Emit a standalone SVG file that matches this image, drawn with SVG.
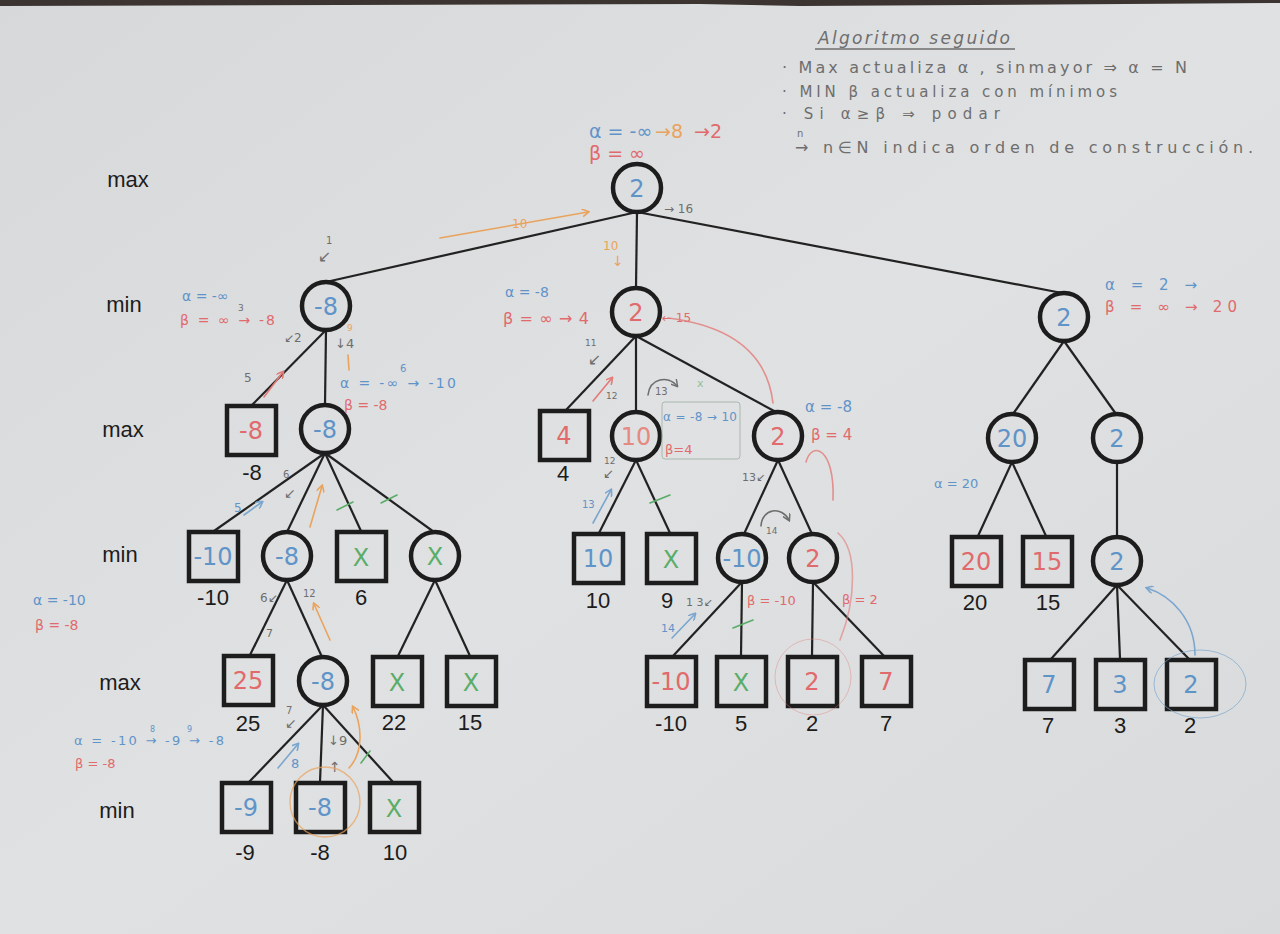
<svg xmlns="http://www.w3.org/2000/svg" width="1280" height="934" viewBox="0 0 1280 934">
<defs>
<linearGradient id="paper" x1="0" y1="0" x2="1" y2="1">
<stop offset="0" stop-color="#d7d8da"/>
<stop offset="0.5" stop-color="#e0e1e2"/>
<stop offset="1" stop-color="#d9dadb"/>
</linearGradient>
<marker id="ao" markerWidth="8" markerHeight="8" refX="6" refY="4" orient="auto" markerUnits="userSpaceOnUse"><path d="M0,0 L7,4 L0,8" fill="none" stroke="#e9a35c" stroke-width="1.6"/></marker>
<marker id="ar" markerWidth="8" markerHeight="8" refX="6" refY="4" orient="auto" markerUnits="userSpaceOnUse"><path d="M0,0 L7,4 L0,8" fill="none" stroke="#e27a78" stroke-width="1.6"/></marker>
<marker id="ab" markerWidth="8" markerHeight="8" refX="6" refY="4" orient="auto" markerUnits="userSpaceOnUse"><path d="M0,0 L7,4 L0,8" fill="none" stroke="#7aa6cf" stroke-width="1.6"/></marker>
<marker id="ap" markerWidth="8" markerHeight="8" refX="6" refY="4" orient="auto" markerUnits="userSpaceOnUse"><path d="M0,0 L7,4 L0,8" fill="none" stroke="#6e6e6e" stroke-width="1.4"/></marker>
</defs>
<style>
.nd{fill:none;stroke:#1d1d1d;stroke-width:4.5}
.edge{stroke:#222;stroke-width:2.2;fill:none}
.lvl{font-family:"Liberation Sans",Arial,sans-serif;font-size:22px;fill:#1c1c1c;text-anchor:middle}
.val{font-family:"Liberation Sans",Arial,sans-serif;font-size:22px;fill:#1c1c1c;text-anchor:middle}
.nv{font-family:"DejaVu Sans",sans-serif;font-size:24px;text-anchor:middle}
.ann{font-family:"DejaVu Sans",sans-serif;font-size:14px}
.b{fill:#5f94c9}
.r{fill:#e06a6c}
.o{fill:#e9a35c}
.g{fill:#59ad68}
.p{fill:#6e6e6e}
.ls{fill:none;stroke-width:1.6;stroke-linecap:round}
</style>
<rect width="1280" height="934" fill="url(#paper)"/>
<polygon points="0,0 1280,0 1280,3 800,6 700,4 0,6" fill="#3b3431"/>

<!-- level labels -->
<g id="levels">
<text class="lvl" x="128" y="187">max</text>
<text class="lvl" x="124" y="312">min</text>
<text class="lvl" x="123" y="437">max</text>
<text class="lvl" x="120" y="562">min</text>
<text class="lvl" x="120" y="690">max</text>
<text class="lvl" x="117" y="818">min</text>
</g>

<!-- connectors -->
<g id="connectors" class="edge">
<line x1="637" y1="212" x2="326" y2="282"/>
<line x1="637" y1="212" x2="636" y2="288"/>
<line x1="637" y1="212" x2="1062" y2="293"/>
<line x1="326" y1="330" x2="252" y2="405"/>
<line x1="326" y1="330" x2="325" y2="405"/>
<line x1="636" y1="336" x2="566" y2="410"/>
<line x1="636" y1="336" x2="636" y2="412"/>
<line x1="636" y1="336" x2="776" y2="412"/>
<line x1="1064" y1="341" x2="1013" y2="414"/>
<line x1="1064" y1="341" x2="1116" y2="414"/>
<line x1="325" y1="453" x2="214" y2="531"/>
<line x1="325" y1="453" x2="287" y2="532"/>
<line x1="325" y1="453" x2="361" y2="531"/>
<line x1="325" y1="453" x2="434" y2="532"/>
<line x1="636" y1="460" x2="599" y2="533"/>
<line x1="636" y1="460" x2="670" y2="533"/>
<line x1="778" y1="460" x2="744" y2="534"/>
<line x1="778" y1="460" x2="812" y2="534"/>
<line x1="1012" y1="462" x2="978" y2="536"/>
<line x1="1012" y1="462" x2="1046" y2="536"/>
<line x1="1117" y1="462" x2="1117" y2="537"/>
<line x1="287" y1="580" x2="250" y2="655"/>
<line x1="287" y1="580" x2="322" y2="657"/>
<line x1="435" y1="580" x2="398" y2="656"/>
<line x1="435" y1="580" x2="470" y2="656"/>
<line x1="742" y1="582" x2="673" y2="656"/>
<line x1="742" y1="582" x2="741" y2="656"/>
<line x1="813" y1="582" x2="812" y2="656"/>
<line x1="813" y1="582" x2="884" y2="656"/>
<line x1="1117" y1="585" x2="1051" y2="659"/>
<line x1="1117" y1="585" x2="1120" y2="659"/>
<line x1="1117" y1="585" x2="1189" y2="659"/>
<line x1="323" y1="705" x2="249" y2="782"/>
<line x1="323" y1="705" x2="320" y2="782"/>
<line x1="323" y1="705" x2="393" y2="782"/>
</g>

<!-- nodes -->
<g id="n-root"><circle class="nd" cx="637" cy="188" r="24"/><text class="nv b" x="637" y="197">2</text></g>
<g id="n-A"><circle class="nd" cx="326" cy="306" r="24"/><text class="nv b" x="326" y="315">-8</text></g>
<g id="n-B"><circle class="nd" cx="636" cy="312" r="24"/><text class="nv r" x="636" y="321">2</text></g>
<g id="n-C"><circle class="nd" cx="1064" cy="317" r="24"/><text class="nv b" x="1064" y="326">2</text></g>

<g id="n-A1"><rect class="nd" x="227" y="406" width="49" height="49"/><text class="nv r" x="251" y="439">-8</text><text class="val" x="252" y="480">-8</text></g>
<g id="n-A2"><circle class="nd" cx="325" cy="429" r="24"/><text class="nv b" x="325" y="438">-8</text></g>
<g id="n-B1"><rect class="nd" x="540" y="411" width="49" height="49"/><text class="nv r" x="564" y="444">4</text><text class="val" x="563" y="481">4</text></g>
<g id="n-B2"><circle class="nd" cx="636" cy="436" r="24"/><text class="nv r" x="636" y="445" style="fill:#e58a80">10</text></g>
<g id="n-B3"><circle class="nd" cx="778" cy="436" r="24"/><text class="nv r" x="778" y="445">2</text></g>
<g id="n-C1"><circle class="nd" cx="1012" cy="438" r="24"/><text class="nv b" x="1012" y="447">20</text></g>
<g id="n-C2"><circle class="nd" cx="1117" cy="438" r="24"/><text class="nv b" x="1117" y="447">2</text></g>

<g id="n-A2a"><rect class="nd" x="189" y="532" width="49" height="49"/><text class="nv b" x="213" y="565">-10</text><text class="val" x="213" y="605">-10</text></g>
<g id="n-A2b"><circle class="nd" cx="287" cy="556" r="24"/><text class="nv b" x="287" y="565">-8</text></g>
<g id="n-A2c"><rect class="nd" x="337" y="532" width="49" height="49"/><text class="nv g" x="361" y="566">X</text><text class="val" x="361" y="605">6</text></g>
<g id="n-A2d"><circle class="nd" cx="435" cy="556" r="24"/><text class="nv g" x="435" y="565">X</text></g>
<g id="n-B2a"><rect class="nd" x="574" y="534" width="49" height="49"/><text class="nv b" x="598" y="567">10</text><text class="val" x="598" y="608">10</text></g>
<g id="n-B2b"><rect class="nd" x="647" y="534" width="49" height="49"/><text class="nv g" x="671" y="568">X</text><text class="val" x="667" y="608">9</text></g>
<g id="n-B3a"><circle class="nd" cx="742" cy="558" r="24"/><text class="nv b" x="742" y="567">-10</text></g>
<g id="n-B3b"><circle class="nd" cx="813" cy="558" r="24"/><text class="nv r" x="813" y="567">2</text></g>
<g id="n-C1a"><rect class="nd" x="952" y="537" width="49" height="49"/><text class="nv r" x="976" y="570">20</text><text class="val" x="975" y="610">20</text></g>
<g id="n-C1b"><rect class="nd" x="1023" y="537" width="49" height="49"/><text class="nv r" x="1047" y="570">15</text><text class="val" x="1048" y="610">15</text></g>
<g id="n-C2a"><circle class="nd" cx="1117" cy="561" r="24"/><text class="nv b" x="1117" y="570">2</text></g>

<g id="n-A2b1"><rect class="nd" x="224" y="656" width="49" height="49"/><text class="nv r" x="248" y="689">25</text><text class="val" x="248" y="731">25</text></g>
<g id="n-A2b2"><circle class="nd" cx="323" cy="681" r="24"/><text class="nv b" x="323" y="690">-8</text></g>
<g id="n-A2d1"><rect class="nd" x="373" y="657" width="49" height="49"/><text class="nv g" x="397" y="691">X</text><text class="val" x="394" y="730">22</text></g>
<g id="n-A2d2"><rect class="nd" x="447" y="657" width="49" height="49"/><text class="nv g" x="471" y="691">X</text><text class="val" x="470" y="730">15</text></g>
<g id="n-B3a1"><rect class="nd" x="647" y="657" width="49" height="49"/><text class="nv r" x="671" y="690">-10</text><text class="val" x="671" y="731">-10</text></g>
<g id="n-B3a2"><rect class="nd" x="717" y="657" width="49" height="49"/><text class="nv g" x="741" y="691">X</text><text class="val" x="741" y="731">5</text></g>
<g id="n-B3b1"><rect class="nd" x="788" y="657" width="49" height="49"/><text class="nv r" x="812" y="690">2</text><text class="val" x="812" y="731">2</text></g>
<g id="n-B3b2"><rect class="nd" x="862" y="657" width="49" height="49"/><text class="nv r" x="886" y="690">7</text><text class="val" x="886" y="731">7</text></g>
<g id="n-C2a1"><rect class="nd" x="1025" y="660" width="49" height="49"/><text class="nv b" x="1049" y="693">7</text><text class="val" x="1048" y="733">7</text></g>
<g id="n-C2a2"><rect class="nd" x="1096" y="660" width="49" height="49"/><text class="nv b" x="1120" y="693">3</text><text class="val" x="1120" y="733">3</text></g>
<g id="n-C2a3"><rect class="nd" x="1167" y="660" width="49" height="49"/><text class="nv b" x="1191" y="693">2</text><text class="val" x="1190" y="733">2</text></g>

<g id="n-L1"><rect class="nd" x="222" y="783" width="49" height="49"/><text class="nv b" x="246" y="816">-9</text><text class="val" x="245" y="860">-9</text></g>
<g id="n-L2"><rect class="nd" x="296" y="783" width="49" height="49"/><text class="nv b" x="320" y="816">-8</text><text class="val" x="320" y="860">-8</text></g>
<g id="n-L3"><rect class="nd" x="370" y="783" width="49" height="49"/><text class="nv g" x="394" y="817">X</text><text class="val" x="395" y="860">10</text></g>

<!-- notes -->
<g id="notes" class="ann p">
<text x="818" y="44" style="font-size:17px;font-style:italic" textLength="192" lengthAdjust="spacing">Algoritmo  seguido</text>
<line x1="815" y1="49" x2="1015" y2="49" stroke="#6e6e6e" stroke-width="1.3"/>
<text x="782" y="73" style="font-size:16px" textLength="405" lengthAdjust="spacing">·  Max   actualiza  α , sinmayor ⇒  α = N</text>
<text x="782" y="97" style="font-size:15px" textLength="335" lengthAdjust="spacing">·  MIN    β actualiza   con  mínimos</text>
<text x="782" y="119" style="font-size:15px" textLength="218" lengthAdjust="spacing">·   Si    α≥β ⇒ podar</text>
<text x="797" y="137" style="font-size:10px">n</text>
<text x="795" y="153" style="font-size:16px" textLength="458" lengthAdjust="spacing">→  n∈N  indica   orden  de  construcción.</text>
</g>

<!-- annotations -->
<g id="annotations" class="ann">
<!-- root -->
<text class="b" x="589" y="138" style="font-size:19px">α = -∞</text>
<text class="o" x="655" y="138" style="font-size:19px">→8</text>
<text class="r" x="694" y="138" style="font-size:19px">→2</text>
<text class="r" x="589" y="160" style="font-size:19px">β = ∞</text>
<text class="p" x="664" y="213" style="font-size:12px">→ 16</text>
<line class="ls" x1="440" y1="238" x2="588" y2="212" stroke="#e9a35c" marker-end="url(#ao)"/>
<text class="o" x="512" y="228" style="font-size:12px">10</text>
<text class="o" x="603" y="250" style="font-size:12px">10</text>
<text class="o" x="612" y="266" style="font-size:14px">↓</text>
<text class="p" x="326" y="244" style="font-size:10px">1</text>
<text class="p" x="318" y="262" style="font-size:16px">↙</text>
<!-- A -->
<text class="b" x="182" y="301" style="font-size:14px">α = -∞</text>
<text class="r" x="180" y="325" style="font-size:14px" textLength="95" lengthAdjust="spacing">β = ∞ → -8</text>
<text class="p" x="238" y="311" style="font-size:9px">3</text>
<text class="p" x="284" y="342" style="font-size:12px">↙2</text>
<text class="p" x="335" y="348" style="font-size:13px">↓4</text>
<text class="o" x="347" y="331" style="font-size:9px">9</text>
<line class="ls" x1="348" y1="355" x2="349" y2="370" stroke="#e9a35c"/>
<text class="p" x="244" y="382" style="font-size:12px">5</text>
<line class="ls" x1="264" y1="397" x2="283" y2="372" stroke="#e27a78" marker-end="url(#ar)"/>
<text class="b" x="340" y="388" style="font-size:14px" textLength="116" lengthAdjust="spacing">α = -∞ → -10</text>
<text class="b" x="400" y="372" style="font-size:10px">6</text>
<text class="r" x="344" y="410" style="font-size:14px">β = -8</text>
<!-- A2 fan -->
<text class="b" x="234" y="512" style="font-size:12px">5</text>
<line class="ls" x1="244" y1="515" x2="262" y2="502" stroke="#7aa6cf" marker-end="url(#ab)"/>
<text class="p" x="283" y="478" style="font-size:10px">6</text>
<text class="p" x="284" y="498" style="font-size:14px">↙</text>
<line class="ls" x1="310" y1="527" x2="322" y2="486" stroke="#e9a35c" marker-end="url(#ao)"/>
<line class="ls" x1="337" y1="510" x2="353" y2="502" stroke="#59ad68" stroke-width="2.2"/>
<line class="ls" x1="381" y1="503" x2="397" y2="495" stroke="#59ad68" stroke-width="2.2"/>
<text class="p" x="260" y="602" style="font-size:12px">6↙</text>
<text class="p" x="303" y="597" style="font-size:10px">12</text>
<line class="ls" x1="330" y1="640" x2="314" y2="604" stroke="#e9a35c" marker-end="url(#ao)"/>
<text class="p" x="266" y="637" style="font-size:11px">7</text>
<text class="b" x="33" y="605" style="font-size:14px">α = -10</text>
<text class="r" x="35" y="630" style="font-size:14px">β = -8</text>
<!-- level 4 left -->
<text class="b" x="74" y="745" style="font-size:13px" textLength="150" lengthAdjust="spacing">α = -10 → -9 → -8</text>
<text class="b" x="150" y="732" style="font-size:8px">8</text>
<text class="b" x="187" y="732" style="font-size:8px">9</text>
<text class="r" x="75" y="768" style="font-size:13px">β = -8</text>
<text class="p" x="286" y="714" style="font-size:10px">7</text>
<text class="p" x="285" y="728" style="font-size:14px">↙</text>
<line class="ls" x1="278" y1="768" x2="298" y2="744" stroke="#7aa6cf" marker-end="url(#ab)"/>
<text class="b" x="291" y="768" style="font-size:13px">8</text>
<text class="p" x="328" y="745" style="font-size:13px">↓9</text>
<text class="p" x="329" y="772" style="font-size:14px">↑</text>
<circle cx="325" cy="802" r="35" fill="none" stroke="#e9a35c" stroke-width="1.4" opacity="0.7"/>
<path class="ls" d="M349 768 C364 752 362 725 353 707" stroke="#e9a35c" marker-end="url(#ao)"/>
<line class="ls" x1="361" y1="763" x2="370" y2="751" stroke="#59ad68" stroke-width="2.2"/>
<!-- middle -->
<text class="b" x="505" y="297" style="font-size:14px">α = -8</text>
<text class="r" x="503" y="324" style="font-size:16px" textLength="86" lengthAdjust="spacing">β = ∞ → 4</text>
<text class="r" x="662" y="322" style="font-size:12px">← 15</text>
<path class="ls" d="M773 403 C768 360 740 327 668 318" stroke="#e27a78" stroke-width="1.1" opacity="0.8"/>
<text class="p" x="585" y="346" style="font-size:9px">11</text>
<text class="p" x="588" y="365" style="font-size:16px">↙</text>
<line class="ls" x1="593" y1="401" x2="612" y2="378" stroke="#e27a78" stroke-width="2.4" marker-end="url(#ar)"/>
<text class="p" x="606" y="399" style="font-size:9px">12</text>
<path class="ls" d="M648 395 C650 378 668 375 677 386" stroke="#6e6e6e" stroke-width="1.2" marker-end="url(#ap)"/>
<text class="p" x="655" y="395" style="font-size:10px">13</text>
<text class="g" x="697" y="387" style="font-size:11px;opacity:0.6">x</text>
<rect x="662" y="402" width="78" height="57" rx="3" fill="none" stroke="#a9b8ad" stroke-width="1"/>
<text class="b" x="663" y="421" style="font-size:12px" textLength="74" lengthAdjust="spacing">α = -8 → 10</text>
<text class="r" x="665" y="454" style="font-size:13px">β=4</text>
<text class="b" x="805" y="412" style="font-size:15px">α = -8</text>
<text class="r" x="811" y="440" style="font-size:15px">β = 4</text>
<path class="ls" d="M806 462 C812 440 835 448 833 500" stroke="#e27a78" stroke-width="1.1" opacity="0.8"/>
<path class="ls" d="M838 533 C858 550 856 600 840 640" stroke="#e27a78" stroke-width="1" opacity="0.6"/>
<text class="p" x="604" y="464" style="font-size:9px">12</text>
<text class="p" x="603" y="478" style="font-size:13px">↙</text>
<text class="b" x="582" y="508" style="font-size:10px">13</text>
<line class="ls" x1="593" y1="523" x2="611" y2="490" stroke="#7aa6cf" stroke-width="1.8" marker-end="url(#ab)"/>
<line class="ls" x1="650" y1="503" x2="670" y2="495" stroke="#59ad68" stroke-width="2.2"/>
<text class="p" x="742" y="481" style="font-size:11px">13↙</text>
<path class="ls" d="M761 526 C762 508 782 506 789 520" stroke="#6e6e6e" stroke-width="1.2" marker-end="url(#ap)"/>
<text class="p" x="766" y="534" style="font-size:9px">14</text>
<text class="r" x="747" y="605" style="font-size:13px">β = -10</text>
<text class="r" x="842" y="604" style="font-size:13px">β = 2</text>
<text class="p" x="686" y="606" style="font-size:11px">1 3↙</text>
<text class="b" x="661" y="632" style="font-size:11px">14</text>
<line class="ls" x1="672" y1="638" x2="695" y2="614" stroke="#7aa6cf" stroke-width="1.8" marker-end="url(#ab)"/>
<line class="ls" x1="733" y1="628" x2="753" y2="620" stroke="#59ad68" stroke-width="2.2"/>
<circle cx="813" cy="677" r="38" fill="none" stroke="#e27a78" stroke-width="1" opacity="0.4"/>
<!-- right -->
<text class="b" x="1105" y="290" style="font-size:15px" textLength="92" lengthAdjust="spacing">α = 2 →</text>
<text class="r" x="1105" y="312" style="font-size:15px" textLength="132" lengthAdjust="spacing">β = ∞ → 20</text>
<text class="b" x="934" y="488" style="font-size:13px">α = 20</text>
<path class="ls" d="M1195 655 C1195 620 1172 596 1147 588" stroke="#7aa6cf" stroke-width="1.1" marker-end="url(#ab)"/>
<ellipse cx="1200" cy="684" rx="46" ry="34" fill="none" stroke="#7aa6cf" stroke-width="1" opacity="0.7"/>
</g>
</svg>
